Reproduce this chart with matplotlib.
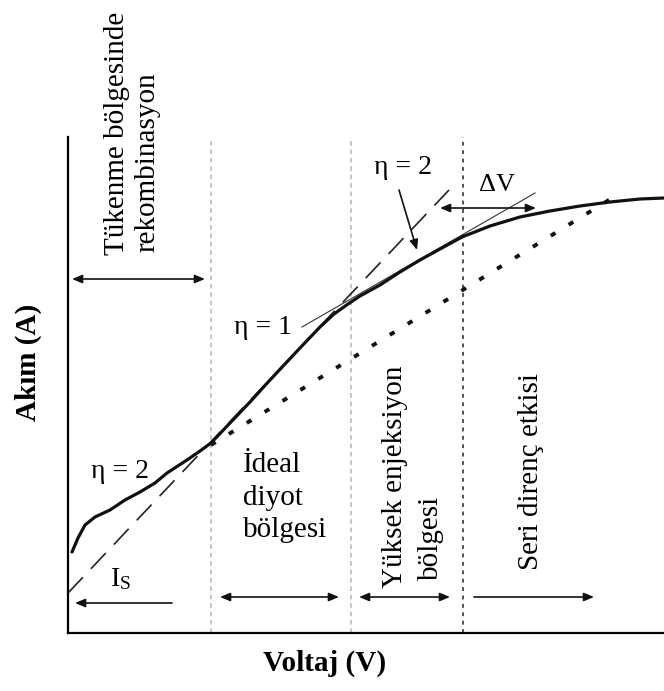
import matplotlib
matplotlib.use("Agg")
import matplotlib.pyplot as plt

plt.rcParams["font.family"] = ["Liberation Serif", "DejaVu Serif"]
plt.rcParams["mathtext.default"] = "regular"

# arbitrary units (V to the right, I upwards)
curve_v = [4, 10, 17, 27, 42, 57, 72, 87, 99, 119, 132, 143, 162, 182, 202, 232,
           252, 266, 280, 292, 312, 332, 352, 372, 394, 422, 452, 482, 512, 542, 572, 596]
curve_i = [81, 95, 108, 116, 123, 133, 141, 150, 160, 173, 182, 190, 210, 231, 253, 285,
           306, 319, 329, 337, 348, 361, 373, 384, 396, 407, 416, 422, 427, 431, 434, 435]

eta1_line_v = [0, 381]      # long dashed extrapolation down to I_s
eta1_line_i = [40, 443]
ideal_v = [143, 549]        # dotted line
ideal_i = [188, 438]
eta2_tan_v = [234, 467]     # thin tangent in high injection region
eta2_tan_i = [306, 440]

region_bounds = [143, 283, 395]
v_max, i_max = 596, 496

fig = plt.figure(figsize=(6.64, 6.91), dpi=100)
ax = fig.add_axes([68 / 664, 58 / 691, 596 / 664, 496 / 691])
ax.set_xlim(0, v_max)
ax.set_ylim(0, i_max)
for s in ["top", "right"]:
    ax.spines[s].set_visible(False)
for s in ["left", "bottom"]:
    ax.spines[s].set_linewidth(1.6)
ax.set_xticks([])
ax.set_yticks([])

ax.axvline(region_bounds[0], color="#b5b5b5", lw=1.1, ls=(0, (3, 2.5)))
ax.axvline(region_bounds[1], color="#b5b5b5", lw=1.1, ls=(0, (3, 2.5)))
ax.axvline(region_bounds[2], color="#222222", lw=1.1, ls=(0, (2.5, 3)))

ax.plot(eta1_line_v, eta1_line_i, color="#222222", lw=1.2, ls=(0, (13, 7)))
ax.plot(ideal_v, ideal_i, color="#111111", lw=2.8, ls=(0, (1.4, 4.0)))
ax.plot(eta2_tan_v, eta2_tan_i, color="#333333", lw=0.8)
ax.plot(curve_v, curve_i, color="#111111", lw=2.3, solid_capstyle="round",
        solid_joinstyle="round")


def arrow(x0, x1, y0, y1, style):
    ax.annotate("", xy=(x1, y1), xytext=(x0, y0),
                arrowprops=dict(arrowstyle=style + ",head_length=0.6,head_width=0.25",
                                lw=1.2, color="#111111", shrinkA=0, shrinkB=0,
                                mutation_scale=10))


arrow(4, 137, 354, 354, "<|-|>")
arrow(104, 7, 30, 30, "-|>")
arrow(152, 271, 36, 36, "<|-|>")
arrow(291, 382, 36, 36, "<|-|>")
arrow(406, 526, 36, 36, "-|>")
arrow(372, 468, 425, 425, "<|-|>")
arrow(331, 349, 443, 383, "-|>")

ax.text(335, 465, "η = 2", fontsize=20, ha="center", va="center")
ax.text(429, 448, "ΔV", fontsize=19, ha="center", va="center")
ax.text(195, 305, "η = 1", fontsize=20, ha="center", va="center")
ax.text(52, 161, "η = 2", fontsize=20, ha="center", va="center")
ax.text(53, 54, r"$\mathregular{I_S}$", fontsize=20, ha="center", va="center")

ax.text(175, 161, "İdeal", fontsize=21, ha="left", va="baseline")
ax.text(175, 128, "diyot", fontsize=21, ha="left", va="baseline")
ax.text(175, 96, "bölgesi", fontsize=21, ha="left", va="baseline")

ax.text(49.5, 378, "Tükenme bölgesinde", fontsize=21, rotation=90, ha="center", va="bottom")
ax.text(79.5, 381, "rekombinasyon", fontsize=21, rotation=90, ha="center", va="bottom")
ax.text(327.5, 45, "Yüksek enjeksiyon", fontsize=21, rotation=90, ha="center", va="bottom")
ax.text(362.5, 53, "bölgesi", fontsize=21, rotation=90, ha="center", va="bottom")
ax.text(462.5, 63, "Seri direnç etkisi", fontsize=21, rotation=90, ha="center", va="bottom")

fig.text(28 / 664, 1 - 362 / 691, "Akım (A)", fontsize=21, fontweight="bold",
         rotation=90, ha="center", va="center")
fig.text(325 / 664, 1 - 663 / 691, "Voltaj (V)", fontsize=21, fontweight="bold",
         ha="center", va="center")

fig.savefig("out.png", dpi=100)
